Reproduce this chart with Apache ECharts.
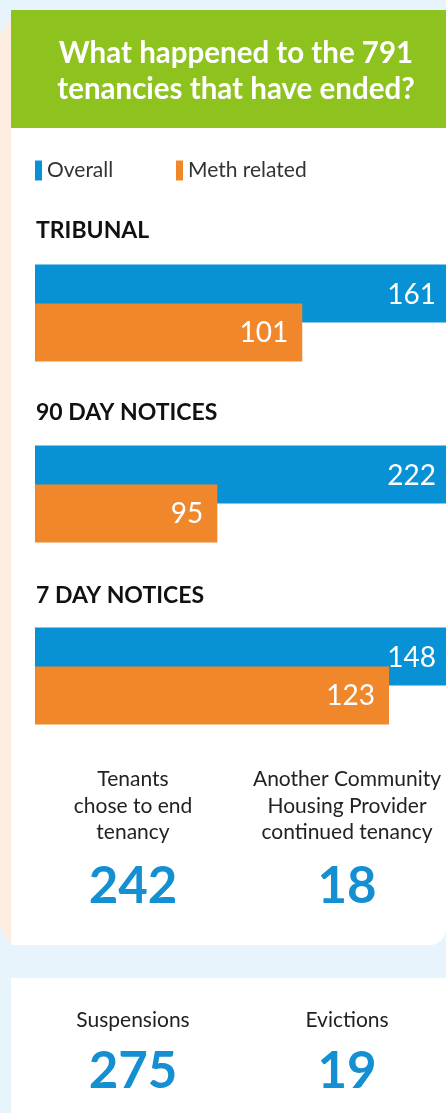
<!DOCTYPE html>
<html>
<head>
<meta charset="utf-8">
<script src="https://cdn.jsdelivr.net/npm/echarts@6/dist/echarts.min.js"></script>
<style>
html,body{margin:0;padding:0;background:#e8f4fc;overflow:hidden;width:446px;height:1113px;}
#chart{width:470px;height:1113px;}
</style>
</head>
<body>
<div id="chart"></div>
<script>
// ---- data ----
const titleLines = ['What happened to the 791', 'tenancies that have ended?'];
const seriesNames = ['Overall', 'Meth related'];
const categories = ['TRIBUNAL', '90 DAY NOTICES', '7 DAY NOTICES'];
const overallValues = [161, 222, 148];
const methValues = [101, 95, 123];
const outcomeLabels = ['Tenants\nchose to end\ntenancy', 'Another Community\nHousing Provider\ncontinued tenancy'];
const outcomeValues = [242, 18];
const actionLabels = ['Suspensions', 'Evictions'];
const actionValues = [275, 19];

// ---- style ----
const FONT = 'Lato, "Open Sans", sans-serif';
const BLUE = '#0891d5';
const ORANGE = '#f0882b';
const GREEN = '#8dc21f';
const NUM_BLUE = '#138fd2';
const TEXT = '#222222';

const chart = echarts.init(document.getElementById('chart'), null, {renderer: 'canvas'});

const sectionTop = [253, 434, 616];
const titleY = [231, 413, 596];
const grids = [], xAxes = [], yAxes = [], series = [];
categories.forEach((c, i) => {
  grids.push({left: 35, top: sectionTop[i], width: 426, height: 120, containLabel: false});
  xAxes.push({type: 'value', gridIndex: i, min: 0, max: overallValues[i], show: false});
  yAxes.push({type: 'category', gridIndex: i, inverse: true, data: [c], show: false});
  const lbl = (d) => ({show: true, position: 'insideRight', distance: d, color: '#fff',
      fontSize: 28, fontWeight: 'normal', fontFamily: FONT, offset: [0, 1]});
  series.push({
    type: 'bar', name: seriesNames[0], xAxisIndex: i, yAxisIndex: i,
    data: [overallValues[i]], barWidth: 58, barGap: '-33%',
    itemStyle: {color: BLUE}, silent: true, label: lbl(25)
  });
  series.push({
    type: 'bar', name: seriesNames[1], xAxisIndex: i, yAxisIndex: i,
    data: [methValues[i]], barWidth: 58, barGap: '-33%',
    itemStyle: {color: ORANGE}, silent: true, label: lbl(14)
  });
});

const graphics = [
  {type: 'polygon', z: -10, shape: {points: [[0, 36], [11, 16], [11, 946], [0, 926]]}, style: {fill: '#fdece0'}},
  {type: 'rect', z: -9, shape: {x: 11, y: 10, width: 460, height: 118}, style: {fill: GREEN}},
  {type: 'rect', z: -9, shape: {x: 11, y: 128, width: 435, height: 817, r: [0, 0, 16, 0]}, style: {fill: '#ffffff'}},
  {type: 'rect', z: -9, shape: {x: 11, y: 978, width: 460, height: 140}, style: {fill: '#ffffff'}},
];
titleLines.forEach((t, i) => {
  graphics.push({type: 'text', x: 236, y: 53 + i * 36, style: {text: t, fill: '#ffffff',
    font: 'bold 29.5px ' + FONT, align: 'center', verticalAlign: 'middle'}});
});
categories.forEach((c, i) => {
  graphics.push({type: 'text', x: 36, y: titleY[i], style: {text: c, fill: '#111',
    font: 'bold 23px ' + FONT, align: 'left', verticalAlign: 'middle'}});
});
const colX = [133, 347];
outcomeLabels.forEach((t, i) => {
  graphics.push({type: 'text', x: colX[i], y: 766, style: {text: t, fill: TEXT,
    font: '21px ' + FONT, lineHeight: 26.5, align: 'center', verticalAlign: 'top'}});
  graphics.push({type: 'text', x: colX[i], y: 887, style: {text: String(outcomeValues[i]), fill: NUM_BLUE,
    font: 'bold 51px ' + FONT, align: 'center', verticalAlign: 'middle'}});
});
actionLabels.forEach((t, i) => {
  graphics.push({type: 'text', x: colX[i], y: 1020, style: {text: t, fill: TEXT,
    font: '21px ' + FONT, align: 'center', verticalAlign: 'middle'}});
  graphics.push({type: 'text', x: colX[i], y: 1072, style: {text: String(actionValues[i]), fill: NUM_BLUE,
    font: 'bold 51px ' + FONT, align: 'center', verticalAlign: 'middle'}});
});

const legendCommon = {top: 160, padding: 0, icon: 'rect', itemWidth: 7, itemHeight: 20, itemGap: 0,
  selectedMode: false, textStyle: {fontSize: 21, color: '#333', fontFamily: FONT}};
chart.setOption({
  backgroundColor: '#e8f4fc',
  animation: false,
  legend: [
    Object.assign({data: [seriesNames[0]], left: 35}, legendCommon),
    Object.assign({data: [seriesNames[1]], left: 176}, legendCommon)
  ],
  grid: grids,
  xAxis: xAxes,
  yAxis: yAxes,
  series: series,
  graphic: {elements: graphics}
});
</script>
</body>
</html>
